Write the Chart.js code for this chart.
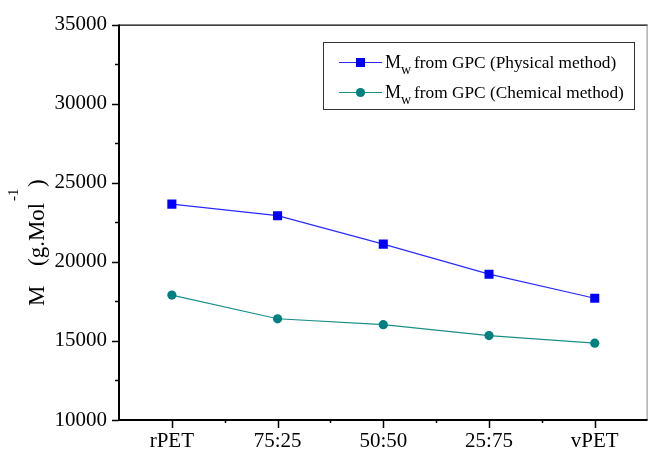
<!DOCTYPE html>
<html>
<head>
<meta charset="utf-8">
<script src="https://cdn.jsdelivr.net/npm/chart.js@4"></script>
<style>
  body { margin: 0; background: #fff; }
  canvas { display: block; }
</style>
</head>
<body>
<canvas id="mwChart" width="654" height="452"></canvas>
<script>
// data
const categories = ['rPET', '75:25', '50:50', '25:75', 'vPET'];
const physicalMw = [23650, 22920, 21120, 19220, 17700];
const chemicalMw = [17900, 16400, 16030, 15340, 14860];
const yMin = 10000, yMax = 35000, yStep = 5000;
const legendLabels = ['from GPC (Physical method)', 'from GPC (Chemical method)'];

const SERIF = '"Liberation Serif", "Times New Roman", serif';

// axes frame, tick marks, rotated y title, legend box
const decorPlugin = {
  id: 'decor',
  afterDraw(chart) {
    const c = chart.ctx;
    const a = chart.chartArea;
    const xs = chart.scales.x, ys = chart.scales.y;
    c.save();

    // frame
    c.strokeStyle = '#000';
    c.lineWidth = 1.2;
    c.beginPath();
    c.moveTo(a.left, a.top + 0.5); c.lineTo(a.right, a.top + 0.5);
    c.stroke();
    c.strokeStyle = '#888';
    c.lineWidth = 1;
    c.beginPath();
    c.moveTo(a.right - 0.5, a.top); c.lineTo(a.right - 0.5, a.bottom);
    c.stroke();
    c.strokeStyle = '#000';
    c.lineWidth = 2;
    c.beginPath();
    c.moveTo(a.left, a.top); c.lineTo(a.left, a.bottom); c.lineTo(a.right, a.bottom);
    c.stroke();

    // y ticks (major every 5000, minor between)
    c.lineWidth = 1.5;
    for (let v = yMin; v <= yMax; v += yStep / 2) {
      const y = Math.round(ys.getPixelForValue(v)) + 0.5;
      const len = (v % yStep === 0) ? 7 : 4;
      c.beginPath();
      c.moveTo(a.left - len, y); c.lineTo(a.left, y);
      c.stroke();
    }
    // x ticks at categories, small ones between
    for (let i = 0; i < categories.length; i++) {
      const x = Math.round(xs.getPixelForValue(i)) + 0.5;
      c.beginPath();
      c.moveTo(x, a.bottom); c.lineTo(x, a.bottom + 8);
      c.stroke();
      if (i < categories.length - 1) {
        const xm = Math.round(xs.getPixelForValue(i + 0.5)) + 0.5;
        c.beginPath();
        c.moveTo(xm, a.bottom); c.lineTo(xm, a.bottom + 3);
        c.stroke();
      }
    }

    // y axis title: M   (g.Mol^-1 )
    c.fillStyle = '#000';
    c.translate(44, 0);
    c.rotate(-Math.PI / 2);
    c.textBaseline = 'alphabetic';
    c.textAlign = 'left';
    c.font = '23px ' + SERIF;
    c.fillText('M', -306, 0);
    c.fillText('(g.Mol', -266, 0);
    c.fillText(')', -187, 0);
    c.font = '15px ' + SERIF;
    c.fillText('-1', -201, -26);
    c.setTransform(1, 0, 0, 1, 0, 0);

    // legend
    const bx = 323, by = 42, bw = 311, bh = 67;
    c.fillStyle = '#fff';
    c.fillRect(bx, by, bw, bh);
    c.strokeStyle = '#333';
    c.lineWidth = 1;
    c.strokeRect(bx + 0.5, by + 0.5, bw, bh);
    const rowsY = [62, 92];
    chart.data.datasets.forEach((ds, i) => {
      const y = rowsY[i];
      c.strokeStyle = ds.borderColor;
      c.lineWidth = 1;
      c.beginPath();
      c.moveTo(339, y + 0.5); c.lineTo(382, y + 0.5);
      c.stroke();
      c.fillStyle = ds.pointBackgroundColor;
      if (ds.pointStyle === 'rect') {
        c.fillRect(356, y - 4, 9, 9);
      } else {
        c.beginPath();
        c.arc(360.5, y + 0.5, 4.6, 0, Math.PI * 2);
        c.fill();
      }
      c.fillStyle = '#000';
      c.textBaseline = 'middle';
      c.font = '18px ' + SERIF;
      c.fillText('M', 385, y + 1);
      const mw = c.measureText('M').width;
      c.font = '14px ' + SERIF;
      c.fillText('w', 385 + mw, y + 8);
      const ww = c.measureText('w').width;
      c.font = '17.3px ' + SERIF;
      c.fillText(legendLabels[i], 385 + mw + ww + 3, y + 1);
    });

    c.restore();
  }
};

new Chart(document.getElementById('mwChart'), {
  type: 'line',
  data: {
    labels: categories,
    datasets: [
      {
        label: 'Mw from GPC (Physical method)',
        data: physicalMw,
        borderColor: '#2a2aff',
        borderWidth: 1.2,
        pointStyle: 'rect',
        pointRadius: 6.4,
        pointBackgroundColor: '#0000ff',
        pointBorderColor: '#0000ff',
        pointBorderWidth: 0,
        tension: 0
      },
      {
        label: 'Mw from GPC (Chemical method)',
        data: chemicalMw,
        borderColor: '#1a8f8a',
        borderWidth: 1.2,
        pointStyle: 'circle',
        pointRadius: 4.6,
        pointBackgroundColor: '#008080',
        pointBorderColor: '#008080',
        pointBorderWidth: 0,
        tension: 0
      }
    ]
  },
  options: {
    responsive: false,
    animation: false,
    layout: { padding: { top: 22, right: 1, left: 0, bottom: 0 } },
    plugins: {
      legend: { display: false },
      tooltip: { enabled: false }
    },
    scales: {
      x: {
        type: 'category',
        offset: true,
        grid: { display: false, drawTicks: false },
        border: { display: false },
        ticks: {
          color: '#000',
          padding: 9,
          font: { family: SERIF, size: 21 },
          maxRotation: 0
        },
        afterFit(scale) { scale.height = 32; }
      },
      y: {
        min: yMin,
        max: yMax,
        grid: { display: false, drawTicks: false },
        border: { display: false },
        ticks: {
          stepSize: yStep,
          color: '#000',
          padding: 12,
          font: { family: SERIF, size: 21 },
          callback: v => String(v)
        },
        afterFit(scale) { scale.width = 119; }
      }
    }
  },
  plugins: [decorPlugin]
});
</script>
</body>
</html>
